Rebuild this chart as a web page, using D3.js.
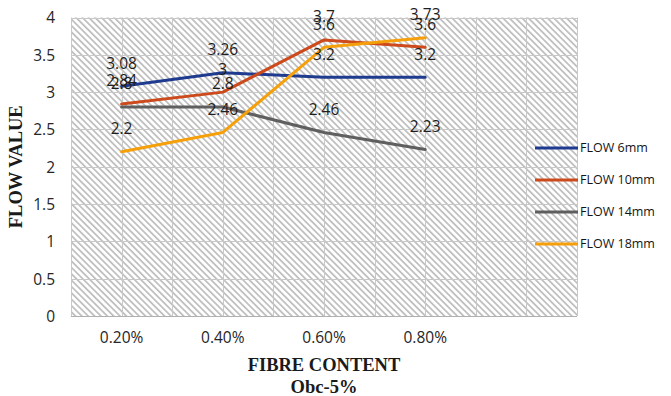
<!DOCTYPE html>
<html>
<head>
<meta charset="utf-8">
<script src="https://cdn.jsdelivr.net/npm/d3@7"></script>
<style>
  html, body { margin: 0; padding: 0; background: #fff; }
  svg { display: block; }
</style>
</head>
<body>
<svg id="chart" width="671" height="396"></svg>
<script>
// Fibre content categories (one trailing empty slot on the category axis)
const categories = ["0.20%", "0.40%", "0.60%", "0.80%"];
const seriesNames = ["FLOW 6mm", "FLOW 10mm", "FLOW 14mm", "FLOW 18mm"];
const flow6mm  = [3.08, 3.26, 3.2, 3.2];
const flow10mm = [2.84, 3, 3.7, 3.6];
const flow14mm = [2.8, 2.8, 2.46, 2.23];
const flow18mm = [2.2, 2.46, 3.6, 3.73];
const seriesColors = ["#1f3b8f", "#cc4a1c", "#5f5f5f", "#f5a00a"];
const yTicks = [0, 0.5, 1, 1.5, 2, 2.5, 3, 3.5, 4];

const series = [flow6mm, flow10mm, flow14mm, flow18mm].map((values, i) => ({
  name: seriesNames[i], color: seriesColors[i], values
}));

const svg = d3.select("#chart");
const plot = { left: 71, right: 577, top: 17.5, bottom: 316 };
const sans = "'Open Sans', sans-serif";
const serif = "'Liberation Serif', 'Times New Roman', serif";

const slots = categories.concat([""]);
const x = d3.scaleBand().domain(slots).range([plot.left, plot.right]).paddingInner(0).paddingOuter(0);
const y = d3.scaleLinear().domain([0, 4]).range([plot.bottom, plot.top]);
const cx = c => x(c) + x.bandwidth() / 2;

// Downward diagonal hatch fill for the plot area
const defs = svg.append("defs");
const pat = defs.append("pattern")
  .attr("id", "hatch").attr("patternUnits", "userSpaceOnUse")
  .attr("width", 4.5).attr("height", 4.5)
  .attr("patternTransform", "rotate(-45)");
pat.append("rect").attr("width", 4.5).attr("height", 4.5).attr("fill", "#ffffff");
pat.append("rect").attr("x", 0).attr("y", 0).attr("width", 1.7).attr("height", 4.5).attr("fill", "#bdbdbd");

svg.append("rect")
  .attr("x", plot.left).attr("y", plot.top)
  .attr("width", plot.right - plot.left).attr("height", plot.bottom - plot.top)
  .attr("fill", "url(#hatch)");

// Gridlines: horizontal at each y tick, vertical at band edges and centres
const grid = svg.append("g").attr("stroke", "#c8c8c8").attr("stroke-width", 1);
grid.selectAll("line.h").data(yTicks).join("line")
  .attr("x1", plot.left).attr("x2", plot.right)
  .attr("y1", d => Math.round(y(d)) + 0.5).attr("y2", d => Math.round(y(d)) + 0.5);
const vx = [];
slots.forEach(s => { vx.push(x(s)); vx.push(cx(s)); });
vx.push(plot.right);
grid.selectAll("line.v").data(vx).join("line")
  .attr("x1", d => Math.round(d) + 0.5).attr("x2", d => Math.round(d) + 0.5)
  .attr("y1", plot.top).attr("y2", plot.bottom);

// Axis baseline
svg.append("line")
  .attr("x1", plot.left).attr("x2", plot.right)
  .attr("y1", Math.round(y(0)) + 0.5).attr("y2", Math.round(y(0)) + 0.5)
  .attr("stroke", "#b0b0b0").attr("stroke-width", 1);

// Y axis
const yAxis = svg.append("g")
  .attr("transform", `translate(${plot.left - 16},0)`)
  .call(d3.axisLeft(y).tickValues(yTicks).tickSize(0).tickPadding(0).tickFormat(d3.format("")));
yAxis.select(".domain").remove();
yAxis.selectAll("text")
  .attr("font-family", sans).attr("font-size", 15.5)
  .attr("fill", "#262626").attr("dy", "0.35em");

// X axis
const xAxis = svg.append("g")
  .attr("transform", `translate(0,${plot.bottom})`)
  .call(d3.axisBottom(x).tickValues(categories).tickSize(0).tickPadding(0));
xAxis.select(".domain").remove();
xAxis.selectAll("text")
  .attr("font-family", sans).attr("font-size", 15.5)
  .attr("fill", "#262626").attr("y", 22).attr("dy", "0.35em");

// Lines
const line = d3.line().x((d, i) => cx(categories[i])).y(d => y(d));
svg.append("g").selectAll("path").data(series).join("path")
  .attr("d", s => line(s.values))
  .attr("fill", "none").attr("stroke", s => s.color)
  .attr("stroke-width", 3).attr("stroke-linejoin", "round").attr("stroke-linecap", "round");

// Data labels above each point
const labels = svg.append("g");
series.forEach(s => {
  labels.selectAll(null).data(s.values).join("text")
    .attr("x", (d, i) => cx(categories[i]))
    .attr("y", d => y(d) - 23)
    .attr("dy", "0.35em")
    .attr("text-anchor", "middle")
    .attr("font-family", sans).attr("font-size", 15.5)
    .attr("fill", "#1e1e1e")
    .text(d => d);
});

// Legend
const legend = svg.append("g");
series.forEach((s, i) => {
  const ly = 148 + i * 32;
  legend.append("line")
    .attr("x1", 535).attr("x2", 578).attr("y1", ly).attr("y2", ly)
    .attr("stroke", s.color).attr("stroke-width", 3);
  legend.append("text")
    .attr("x", 580).attr("y", ly).attr("dy", "0.35em")
    .attr("font-family", sans).attr("font-size", 12.5)
    .attr("fill", "#141414")
    .text(s.name);
});

// Axis titles
svg.append("text")
  .attr("transform", `translate(16,${(plot.top + plot.bottom) / 2}) rotate(-90)`)
  .attr("text-anchor", "middle").attr("dy", "0.35em")
  .attr("font-family", serif)
  .attr("font-weight", "bold").attr("font-size", 18.5).attr("fill", "#1a1a1a")
  .text("FLOW VALUE");
svg.append("text")
  .attr("x", (plot.left + plot.right) / 2).attr("y", 365).attr("dy", "0.35em")
  .attr("text-anchor", "middle")
  .attr("font-family", serif)
  .attr("font-weight", "bold").attr("font-size", 18.5).attr("fill", "#1a1a1a")
  .text("FIBRE CONTENT");
svg.append("text")
  .attr("x", (plot.left + plot.right) / 2).attr("y", 387).attr("dy", "0.35em")
  .attr("text-anchor", "middle")
  .attr("font-family", serif)
  .attr("font-weight", "bold").attr("font-size", 18.5).attr("fill", "#1a1a1a")
  .text("Obc-5%");
</script>
</body>
</html>
